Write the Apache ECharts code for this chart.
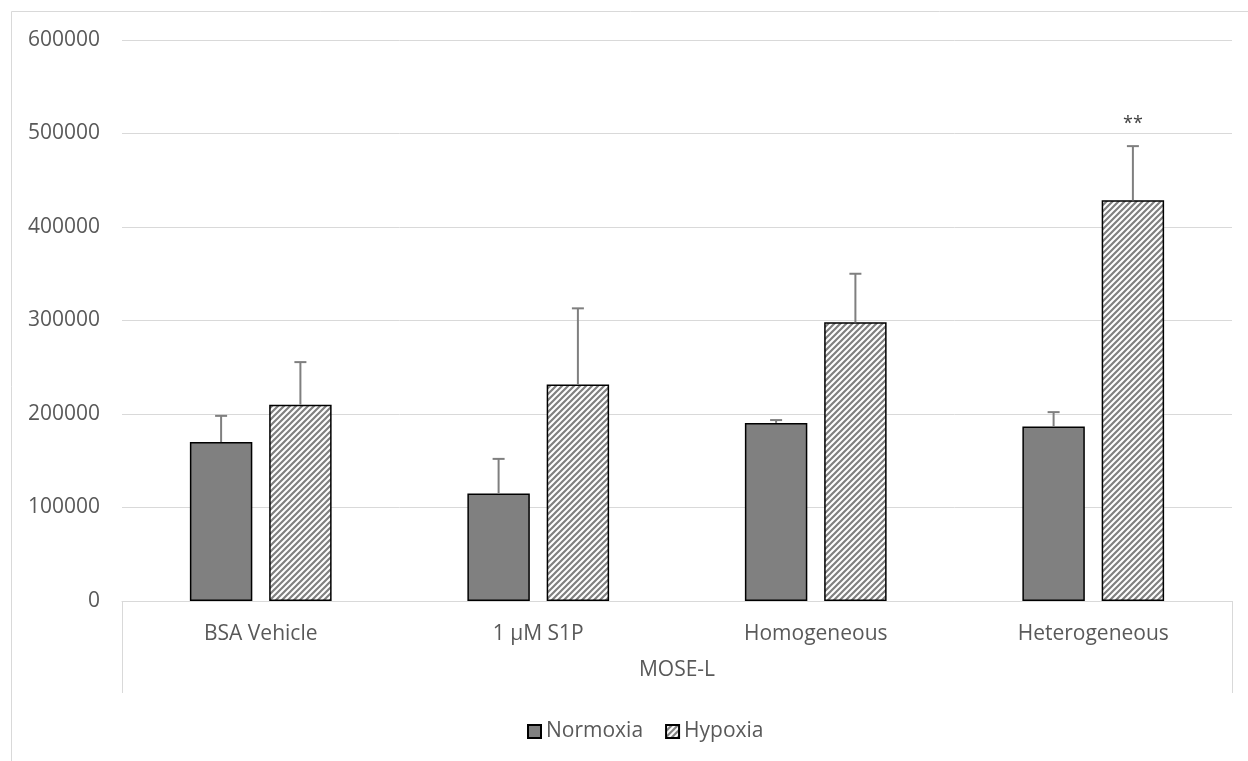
<!DOCTYPE html>
<html>
<head>
<meta charset="utf-8">
<script src="https://cdn.jsdelivr.net/npm/echarts@6/dist/echarts.min.js"></script>
<style>html,body{margin:0;padding:0;background:#fff}#c{width:1248px;height:761px}</style>
</head>
<body>
<div id="c"></div>
<script>
var categories = ['BSA Vehicle', '1 \u00b5M S1P', 'Homogeneous', 'Heterogeneous'];
var groupLabel = ['MOSE-L'];
var normoxia = [170000, 115000, 190500, 186500];
var normoxiaErr = [28000, 37000, 3000, 15500];
var hypoxia = [210000, 231500, 298000, 428500];
var hypoxiaErr = [45500, 81500, 52000, 58000];
var hypoxiaMarks = ['', '', '', '**'];
var yTicks = [0, 100000, 200000, 300000, 400000, 500000, 600000];

var FONT = 'Open Sans';
var FS = 21;
var BAR_W = 0.225, GAP = 0.27;
var OFFSET = BAR_W * (1 + GAP) / 2;

function hatch() {
  var s = 6;
  var cv = document.createElement('canvas');
  cv.width = s; cv.height = s;
  var g = cv.getContext('2d');
  g.fillStyle = '#ffffff';
  g.fillRect(0, 0, s, s);
  g.strokeStyle = '#808080';
  g.lineWidth = 2.2;
  g.beginPath();
  g.moveTo(-1, s + 1); g.lineTo(s + 1, -1);
  g.moveTo(-1, 1); g.lineTo(1, -1);
  g.moveTo(s - 1, s + 1); g.lineTo(s + 1, s - 1);
  g.stroke();
  return cv;
}

function errSeries(vals, errs, sign, marks) {
  var data = vals.map(function (v, i) { return [i, v, errs[i]]; });
  return {
    type: 'custom',
    silent: true,
    z: 5,
    data: data,
    renderItem: function (params, api) {
      var i = api.value(0), v = api.value(1), e = api.value(2);
      var band = api.size([1, 0])[0];
      var base = api.coord([i, v]);
      var top = api.coord([i, v + e]);
      var x = base[0] + sign * band * OFFSET;
      var children = [
        { type: 'line', shape: { x1: x, y1: base[1], x2: x, y2: top[1] }, style: { stroke: '#7f7f7f', lineWidth: 2 } },
        { type: 'line', shape: { x1: x - 6, y1: top[1], x2: x + 6, y2: top[1] }, style: { stroke: '#7f7f7f', lineWidth: 2 } }
      ];
      if (marks && marks[params.dataIndex]) {
        children.push({ type: 'text', style: { text: marks[params.dataIndex], x: x, y: top[1] - 22, align: 'center', verticalAlign: 'middle', fill: '#404040', font: '18px "' + FONT + '"' } });
      }
      return { type: 'group', children: children };
    }
  };
}

var chart = echarts.init(document.getElementById('c'));
chart.setOption({
  animation: false,
  backgroundColor: '#fff',
  graphic: [{ type: 'rect', shape: { x: 11.5, y: 11.5, width: 1400, height: 900 }, style: { fill: 'none', stroke: '#d9d9d9', lineWidth: 1 }, silent: true }],
  grid: { left: 122, right: 16, top: 40, bottom: 160, containLabel: false },
  legend: {
    bottom: 14, left: 522,
    itemWidth: 13, itemHeight: 13, itemGap: 22,
    icon: 'rect',
    textStyle: { fontFamily: FONT, fontSize: FS, color: '#595959' },
    data: ['Normoxia', 'Hypoxia']
  },
  xAxis: [
    {
      type: 'category', data: categories, gridIndex: 0,
      axisLine: { lineStyle: { color: '#d9d9d9', width: 1 } },
      axisTick: { show: false },
      axisLabel: { fontFamily: FONT, fontSize: FS, color: '#595959', margin: 23 }
    },
    {
      type: 'category', data: groupLabel, gridIndex: 0, position: 'bottom',
      axisLine: { show: false },
      axisTick: { show: true, length: 92, lineStyle: { color: '#d9d9d9', width: 1 } },
      axisLabel: { fontFamily: FONT, fontSize: FS, color: '#595959', margin: 59 }
    }
  ],
  yAxis: {
    type: 'value', min: yTicks[0], max: yTicks[yTicks.length - 1], interval: yTicks[1] - yTicks[0],
    axisLine: { show: false }, axisTick: { show: false },
    splitLine: { lineStyle: { color: '#d9d9d9', width: 1 } },
    axisLabel: { fontFamily: FONT, fontSize: FS, color: '#595959', margin: 22, formatter: function (v) { return String(v); } }
  },
  series: [
    {
      name: 'Normoxia', type: 'bar', data: normoxia, barWidth: (BAR_W * 100) + '%', barGap: (GAP * 100) + '%',
      itemStyle: { color: '#808080', borderColor: '#000', borderWidth: 1.5 }
    },
    {
      name: 'Hypoxia', type: 'bar', data: hypoxia, barWidth: (BAR_W * 100) + '%', barGap: (GAP * 100) + '%',
      itemStyle: { color: { image: hatch(), repeat: 'repeat' }, borderColor: '#000', borderWidth: 1.5 }
    },
    errSeries(normoxia, normoxiaErr, -1, null),
    errSeries(hypoxia, hypoxiaErr, 1, hypoxiaMarks)
  ]
});
</script>
</body>
</html>
